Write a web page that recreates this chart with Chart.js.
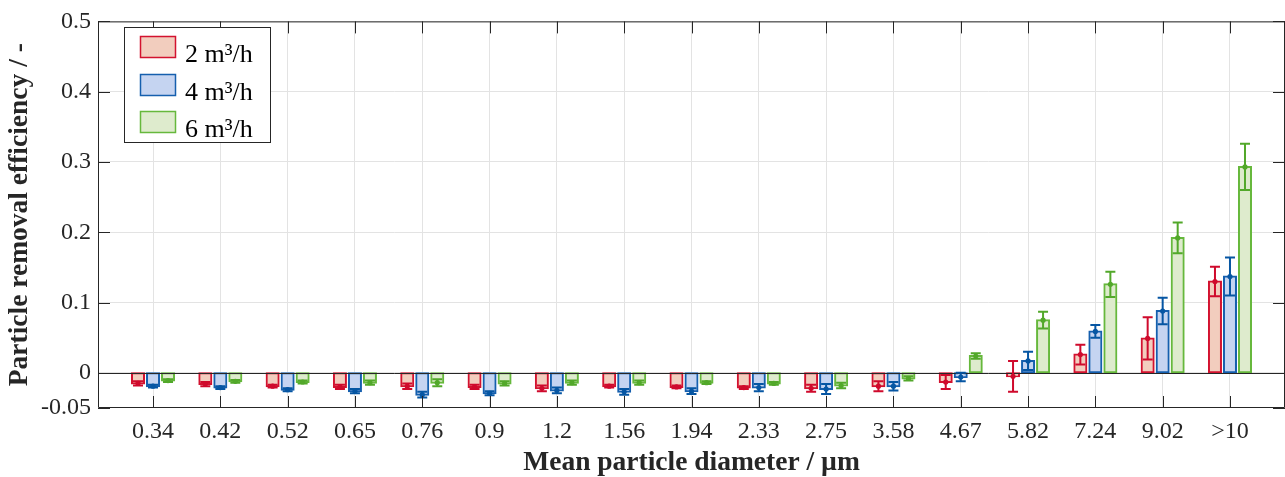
<!DOCTYPE html>
<html>
<head>
<meta charset="utf-8">
<script src="https://cdn.jsdelivr.net/npm/chart.js@4/dist/chart.umd.min.js"></script>
<style>
html,body{margin:0;padding:0;background:#fff;}
#wrap{width:1285px;height:477px;}
</style>
</head>
<body>
<div id="wrap"><canvas id="c" width="1285" height="477"></canvas></div>
<script>
const categories = ['0.34','0.42','0.52','0.65','0.76','0.9','1.2','1.56','1.94','2.33','2.75','3.58','4.67','5.82','7.24','9.02','>10'];
const seriesNames = ['2 m³/h','4 m³/h','6 m³/h'];
const values2 = [-0.015,-0.016,-0.019,-0.020,-0.019,-0.020,-0.022,-0.019,-0.020,-0.021,-0.022,-0.019,-0.013,-0.005,0.026,0.049,0.130];
const errors2 = [0.003,0.003,0.002,0.003,0.004,0.003,0.004,0.002,0.002,0.002,0.005,0.007,0.010,0.022,0.014,0.030,0.021];
const values4 = [-0.019,-0.021,-0.024,-0.026,-0.031,-0.029,-0.025,-0.027,-0.026,-0.021,-0.023,-0.019,-0.006,0.017,0.059,0.088,0.137];
const errors4 = [0.002,0.002,0.002,0.003,0.004,0.003,0.004,0.004,0.004,0.005,0.007,0.006,0.006,0.013,0.009,0.019,0.027];
const values6 = [-0.011,-0.012,-0.013,-0.014,-0.014,-0.015,-0.014,-0.014,-0.014,-0.015,-0.018,-0.008,0.024,0.075,0.126,0.192,0.293];
const errors6 = [0.002,0.002,0.002,0.003,0.005,0.003,0.003,0.003,0.002,0.002,0.004,0.003,0.004,0.012,0.018,0.022,0.033];
const yTicks = [-0.05,0,0.1,0.2,0.3,0.4,0.5];
const yTickLabels = ['-0.05','0','0.1','0.2','0.3','0.4','0.5'];

const edgeColors = ['#d3122f','#155fae','#66b83c'];
const fillColors = ['#f2cdbe','#c5d4f1','#deebcd'];
const errColors = ['#cf0a2c','#0656a3','#52a82a'];
const allValues = [values2, values4, values6];
const allErrors = [errors2, errors4, errors6];

const AX = '#262626';
const SERIF = '"Liberation Serif", "Times New Roman", serif';

const datasets = allValues.map((vals, s) => ({
  label: seriesNames[s],
  data: vals.map((v, i) => ({x: i + 1, y: v})),
  backgroundColor: fillColors[s],
  borderColor: edgeColors[s],
  borderWidth: 2,
  borderSkipped: false,
  inflateAmount: 1,
  categoryPercentage: 0.669,
  barPercentage: 0.8
}));

const framePlugin = {
  id: 'frame',
  afterDatasetsDraw(chart) {
    const ctx = chart.ctx;
    const ca = chart.chartArea;
    const xs = chart.scales.x, ys = chart.scales.y;
    ctx.save();
    // zero baseline
    const y0 = ys.getPixelForValue(0);
    ctx.strokeStyle = AX; ctx.lineWidth = 1;
    ctx.beginPath(); ctx.moveTo(ca.left, Math.round(y0) + 0.5); ctx.lineTo(ca.right, Math.round(y0) + 0.5); ctx.stroke();
    // error bars
    chart.data.datasets.forEach((ds, s) => {
      const meta = chart.getDatasetMeta(s);
      const errs = allErrors[s];
      meta.data.forEach((el, i) => {
        const v = allValues[s][i];
        const e = errs[i];
        const x = el.x;
        const yv = ys.getPixelForValue(v);
        const yl = ys.getPixelForValue(v - e);
        const yh = ys.getPixelForValue(v + e);
        ctx.strokeStyle = errColors[s];
        ctx.fillStyle = errColors[s];
        ctx.lineWidth = 2;
        ctx.beginPath();
        ctx.moveTo(x, yl); ctx.lineTo(x, yh);
        ctx.moveTo(x - 5, yl); ctx.lineTo(x + 5, yl);
        ctx.moveTo(x - 5, yh); ctx.lineTo(x + 5, yh);
        ctx.stroke();
        ctx.beginPath(); ctx.arc(x, yv, 2.6, 0, Math.PI * 2); ctx.fill();
      });
    });
    // frame
    ctx.strokeStyle = AX; ctx.lineWidth = 1;
    ctx.beginPath();
    ctx.moveTo(ca.left + 0.5, ca.top + 0.5); ctx.lineTo(ca.right - 0.5, ca.top + 0.5);
    ctx.lineTo(ca.right - 0.5, ca.bottom - 0.5); ctx.lineTo(ca.left + 0.5, ca.bottom - 0.5); ctx.closePath();
    ctx.stroke();
    // inward ticks
    ctx.beginPath();
    xs.ticks.forEach(t => {
      const px = Math.round(xs.getPixelForValue(t.value)) + 0.5;
      ctx.moveTo(px, ca.bottom); ctx.lineTo(px, ca.bottom - 12);
      ctx.moveTo(px, ca.top); ctx.lineTo(px, ca.top + 12);
    });
    ys.ticks.forEach(t => {
      const py = Math.round(ys.getPixelForValue(t.value)) + 0.5;
      ctx.moveTo(ca.left, py); ctx.lineTo(ca.left + 12, py);
      ctx.moveTo(ca.right, py); ctx.lineTo(ca.right - 12, py);
    });
    ctx.stroke();
    // legend
    const bx = 124, by = 27, bw = 146, bh = 115;
    ctx.fillStyle = '#fff';
    ctx.fillRect(bx, by, bw, bh);
    ctx.strokeStyle = AX; ctx.lineWidth = 1;
    ctx.strokeRect(bx + 0.5, by + 0.5, bw, bh);
    const rowY = [36, 74, 111];
    chart.data.datasets.forEach((ds, s) => {
      ctx.fillStyle = fillColors[s];
      ctx.fillRect(140, rowY[s], 36, 22);
      ctx.strokeStyle = edgeColors[s]; ctx.lineWidth = 1.5;
      ctx.strokeRect(140.5, rowY[s] + 0.5, 35, 21);
      ctx.fillStyle = '#000';
      ctx.font = '26px ' + SERIF;
      ctx.textBaseline = 'alphabetic';
      ctx.textAlign = 'left';
      ctx.fillText(ds.label, 185, rowY[s] + 26);
    });
    ctx.restore();
  }
};

new Chart(document.getElementById('c'), {
  type: 'bar',
  data: { datasets },
  options: {
    responsive: false,
    animation: false,
    devicePixelRatio: 1,
    layout: { padding: { top: 19, right: 0, left: 0, bottom: 0 } },
    plugins: { legend: { display: false }, tooltip: { enabled: false } },
    scales: {
      x: {
        type: 'linear',
        offset: false,
        min: 0.1826,
        max: 17.8174,
        grid: { offset: false, color: '#e3e3e3', lineWidth: 1, drawTicks: false },
        border: { display: false },
        ticks: {
          stepSize: 1,
          includeBounds: false,
          autoSkip: false,
          maxRotation: 0,
          padding: 9,
          color: AX,
          font: { family: SERIF, size: 24 },
          callback: (v) => categories[Math.round(v) - 1] ?? ''
        },
        afterBuildTicks: (scale) => { scale.ticks = categories.map((c, i) => ({ value: i + 1 })); },
        afterFit: (scale) => { scale.height = 69; },
        title: {
          display: true,
          text: 'Mean particle diameter / µm',
          color: AX,
          font: { family: SERIF, size: 27.5, weight: 'bold', lineHeight: 1 },
          padding: { top: 0, bottom: 0 }
        }
      },
      y: {
        min: -0.05,
        max: 0.5,
        grid: { color: (c) => (c.tick && c.tick.value === -0.05) ? 'rgba(0,0,0,0)' : '#e3e3e3', lineWidth: 1, drawTicks: false },
        border: { display: false },
        afterBuildTicks: (scale) => { scale.ticks = yTicks.map(v => ({ value: v })); },
        afterFit: (scale) => { scale.width = 98; },
        ticks: {
          padding: 7,
          color: AX,
          font: { family: SERIF, size: 24 },
          callback: (v) => { const k = yTicks.indexOf(v); return k >= 0 ? yTickLabels[k] : ''; }
        },
        title: {
          display: true,
          text: 'Particle removal efficiency / -',
          color: AX,
          font: { family: SERIF, size: 27.5, weight: 'bold', lineHeight: 1 },
          padding: { top: 6, bottom: 0 }
        }
      }
    }
  },
  plugins: [framePlugin]
});
</script>
</body>
</html>
